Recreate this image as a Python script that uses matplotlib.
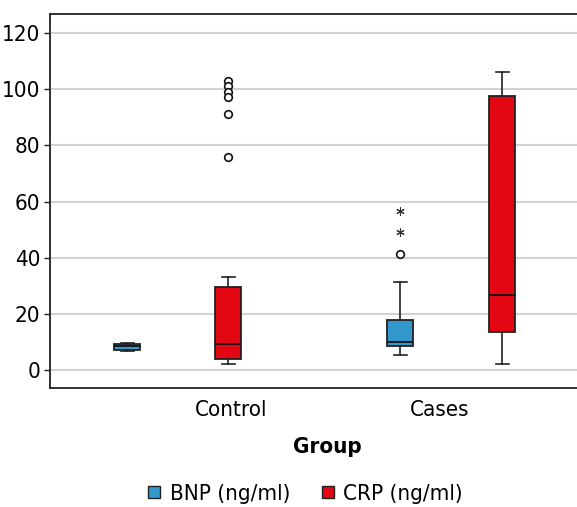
import matplotlib
matplotlib.use("Agg")
import matplotlib.pyplot as plt
from matplotlib.lines import Line2D

plt.rcParams["font.family"] = ["DejaVu Sans"]
plt.rcParams["font.stretch"] = "condensed"

# ---- data ----
groups = ["Control", "Cases"]
series = ["BNP (ng/ml)", "CRP (ng/ml)"]
colors = ["#3399CC", "#E30613"]

# [whislo, q1, median, q3, whishi]
bnp_control = [6.8, 7.1, 8.4, 9.2, 9.6]
crp_control = [2.0, 3.8, 9.1, 29.4, 33.2]
bnp_cases = [5.3, 8.5, 10.0, 17.8, 31.2]
crp_cases = [2.3, 13.6, 26.8, 97.5, 106.2]

crp_control_outliers = [102.8, 101.0, 99.1, 97.2, 91.2, 75.7]
bnp_cases_outliers = [41.5]
bnp_cases_extremes = [56.6, 49.0]

yticks = [0, 20, 40, 60, 80, 100, 120]

W, H = 577, 507
fig = plt.figure(figsize=(W / 100, H / 100), dpi=100)
ax = fig.add_axes([50 / W, (507 - 388) / H, 545 / W, 374 / H])

box_pos = [77, 178, 350, 452]
label_pos = [181, 390]
bw = 26

def mk(s, fl):
    return dict(whislo=s[0], q1=s[1], med=s[2], q3=s[3], whishi=s[4], fliers=fl)

stats = [mk(bnp_control, []), mk(crp_control, crp_control_outliers),
         mk(bnp_cases, bnp_cases_outliers), mk(crp_cases, [])]
box_colors = [colors[0], colors[1], colors[0], colors[1]]

edge = "#222222"
bp = ax.bxp(stats, positions=box_pos, widths=bw, patch_artist=True,
            showfliers=True, manage_ticks=False,
            boxprops=dict(edgecolor=edge, linewidth=1.3),
            whiskerprops=dict(color=edge, linewidth=1.2),
            capprops=dict(color=edge, linewidth=1.2),
            medianprops=dict(color="#111111", linewidth=1.3),
            flierprops=dict(marker="o", markersize=5.5, markerfacecolor="white",
                            markeredgecolor="#111111", markeredgewidth=1.2,
                            linestyle="none"))
for p, c in zip(bp["boxes"], box_colors):
    p.set_facecolor(c)
    p.set_zorder(3)
for k in ("whiskers", "caps", "medians", "fliers"):
    for a in bp[k]:
        a.set_zorder(4)

ax.plot([box_pos[2]] * len(bnp_cases_extremes), bnp_cases_extremes,
        linestyle="none", marker=(6, 2, 0), markersize=6,
        markeredgecolor="#333333", markeredgewidth=0.8, zorder=4)

ax.set_xlim(0, 545)
ax.set_ylim(-6.4, 126.8)
ax.set_yticks(yticks)
ax.set_yticklabels([str(t) for t in yticks], fontsize=16)
ax.set_xticks(label_pos)
ax.set_xticklabels(groups, fontsize=16)
ax.tick_params(axis="x", length=0, pad=9)
ax.tick_params(axis="y", length=4, width=1.0, pad=3, color="#222222")
ax.grid(axis="y", color="#d2d2d2", linewidth=1.5, zorder=0)
ax.set_axisbelow(True)
for s in ("left", "top", "bottom"):
    ax.spines[s].set_color("#222222")
    ax.spines[s].set_linewidth(1.3)
ax.spines["right"].set_visible(False)

ax.set_xlabel("Group", fontsize=16, fontweight="bold")
ax.xaxis.set_label_coords((327 - 50) / 545, -0.13)

handles = [Line2D([], [], linestyle="none", marker="s", markersize=8,
                  markerfacecolor=c, markeredgecolor="#222222",
                  markeredgewidth=1.0) for c in colors]
fig.legend(handles, series, loc="center", bbox_to_anchor=(303 / W, 1 - 494 / H),
           ncol=2, frameon=False, fontsize=16, handletextpad=0.2,
           columnspacing=1.2, handlelength=1.0, borderaxespad=0)

fig.savefig("out.png", dpi=100)
